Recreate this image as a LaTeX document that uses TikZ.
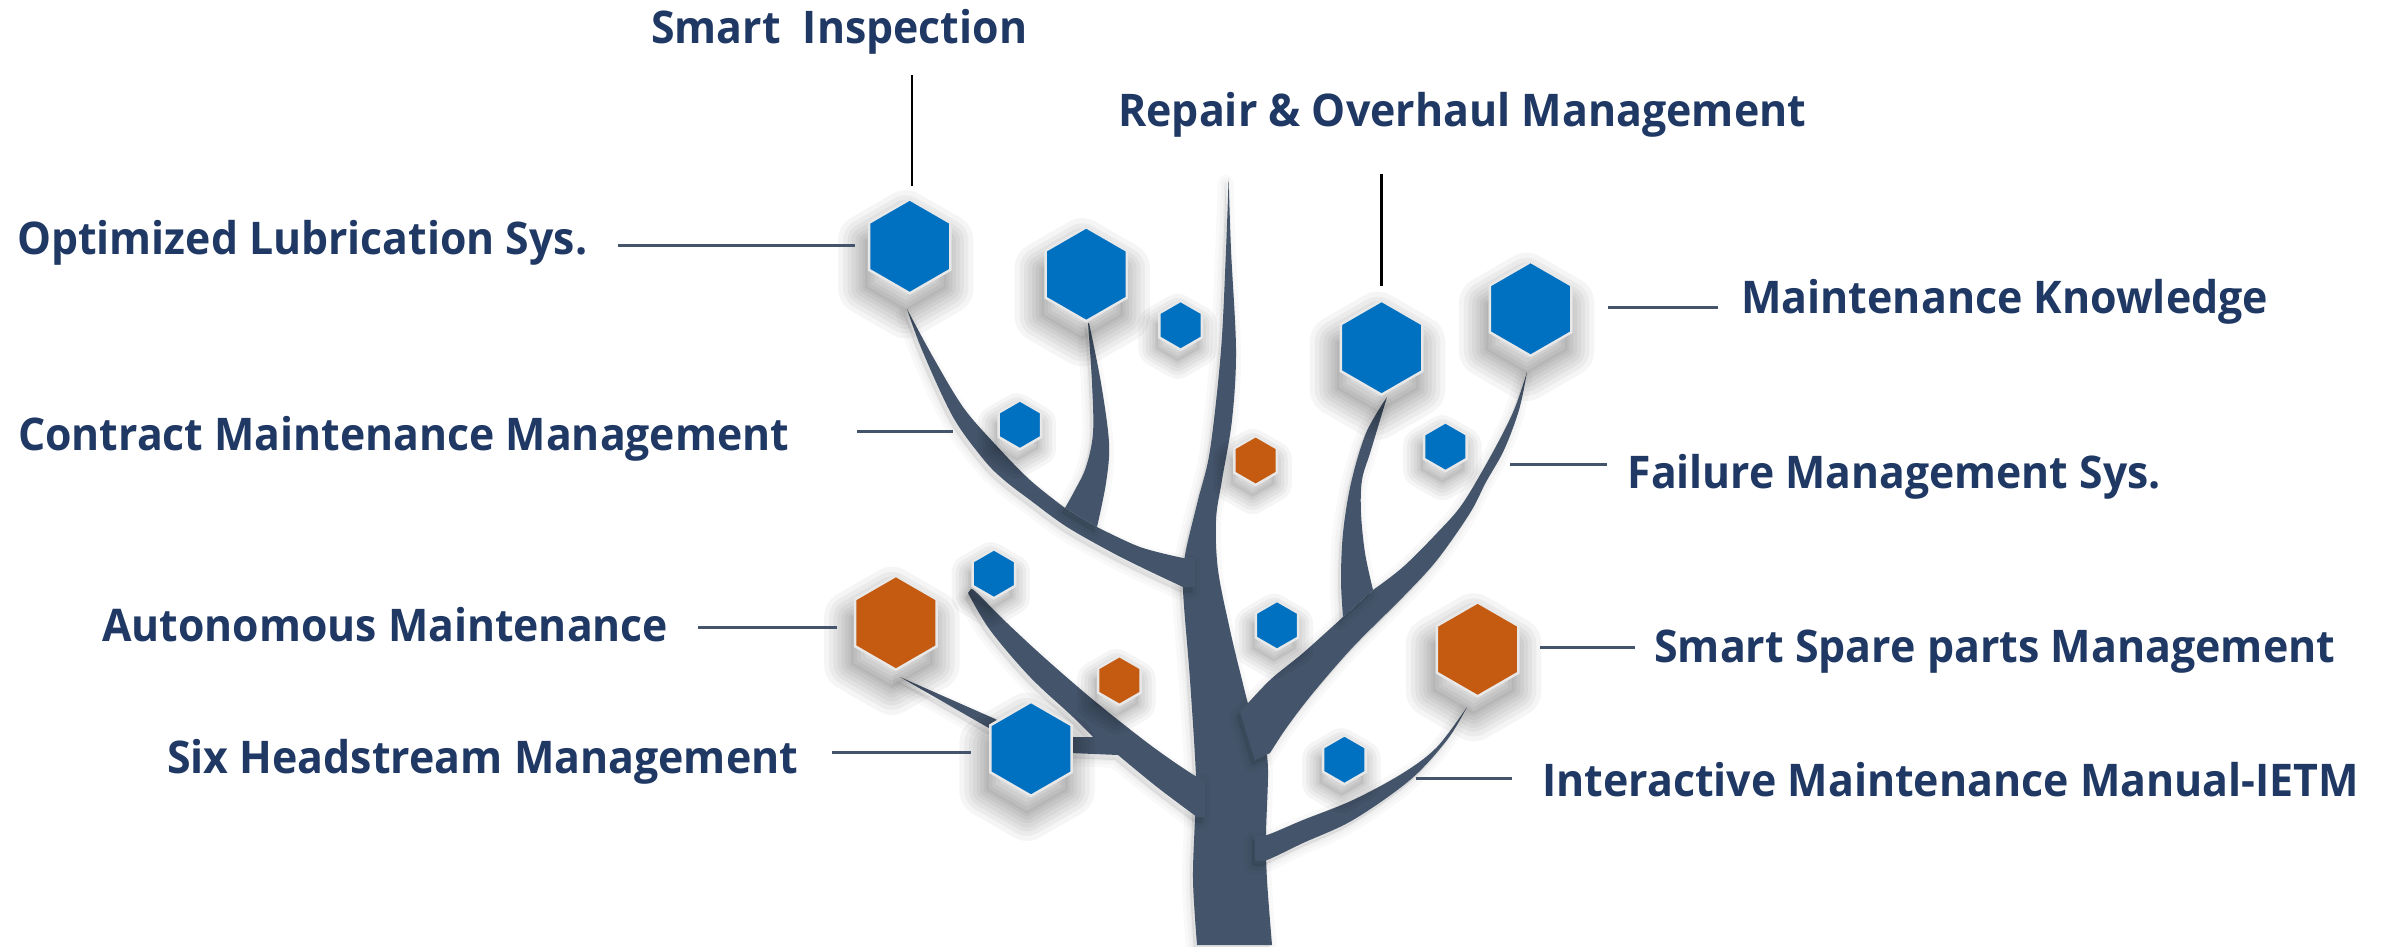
\documentclass[tikz,border=0pt]{standalone}
\usepackage{fontspec}
\setmainfont{Open Sans}
\usepackage{graphicx}
\usetikzlibrary{shapes.geometric}
\definecolor{hexblue}{HTML}{0070C0}
\definecolor{hexorange}{HTML}{C55A11}
\definecolor{treecol}{HTML}{44546A}
\definecolor{txtcol}{HTML}{1F3864}
\newcommand\fitw[2]{\resizebox{#1pt}{\height}{#2}}
\begin{document}
\begin{tikzpicture}[x=1pt,y=-1pt,
  shadowlayer/.style={preaction={draw=black, draw opacity=0.04, line width=#1, line join=round, transform canvas={shift={(-4pt,-18pt)}}}},
  shadowfill/.style={preaction={fill=black, fill opacity=0.04, transform canvas={shift={(-4pt,-18pt)}}}},
  sshadowlayer/.style={preaction={draw=black, draw opacity=0.04, line width=#1, line join=round, transform canvas={shift={(-3pt,-11pt)}}}},
  sshadowfill/.style={preaction={fill=black, fill opacity=0.04, transform canvas={shift={(-3pt,-11pt)}}}},
  hexshadowbig/.style={shadowfill, shadowlayer=54pt, shadowlayer=44pt, shadowlayer=35pt, shadowlayer=27pt, shadowlayer=19pt, shadowlayer=12pt, shadowlayer=5pt},
  hexshadowsmall/.style={sshadowfill, sshadowlayer=36pt, sshadowlayer=28pt, sshadowlayer=21pt, sshadowlayer=14pt, sshadowlayer=8pt, sshadowlayer=3pt},
  tshadowlayer/.style={preaction={fill=black, draw=black, fill opacity=0.025, draw opacity=0.025, line width=#1, line join=round, transform canvas={shift={(-3pt,-5pt)}}}},
  treeshadow/.style={tshadowlayer=16pt, tshadowlayer=9pt, tshadowlayer=3pt},
  branch/.style={fill=treecol, treeshadow},
  hexbase/.style={regular polygon, regular polygon sides=6, shape border rotate=90, inner sep=0pt, draw=black!9, line width=2.5pt},
  bighex/.style={hexbase, minimum size=94pt, hexshadowbig},
  smallhex/.style={hexbase, minimum size=49pt, hexshadowsmall},
  blueh/.style={fill=hexblue},
  orangeh/.style={fill=hexorange},
  lblst/.style={text=txtcol, font=\fontsize{45}{54}\selectfont\bfseries, inner sep=0pt, anchor=base west},
  leader/.style={draw=treecol, line width=3pt},
  vleader/.style={draw=black, line width=2.5pt}
]
\useasboundingbox (0,0) rectangle (2389,947);
\fill[white] (0,0) rectangle (2389,947);

% ---------------- tree ----------------
% trunk with central spike
\path[branch] plot[smooth, tension=0.55] coordinates {(1197,945) (1193,880) (1195,817) (1196,777) (1190,680) (1183,590) (1185,555) (1198,500) (1210,450) (1221,350) (1226,250) (1228.6,178)}
  -- plot[smooth, tension=0.55] coordinates {(1228.6,178) (1231,250) (1236,350) (1232,420) (1222,480) (1216,520) (1218,570) (1230,630) (1242,680) (1250,710) (1264,745) (1268,770) (1266,835) (1267,880) (1272,945)}
  -- cycle;
% right big branch (to Maintenance Knowledge)
\path[branch] plot[smooth, tension=0.55] coordinates {(1240,712) (1270,680) (1303,653) (1343,617)}
  -- plot[smooth, tension=0.55] coordinates {(1373,590) (1403,567) (1437,533) (1463,503) (1494,450) (1514,410) (1527,372)}
  -- plot[smooth, tension=0.55] coordinates {(1527,372) (1519,410) (1504,450) (1486,482) (1470,513) (1437,560) (1403,597) (1353,647) (1313,693) (1287,727) (1270,753)}
  -- (1255,760) -- cycle;
% sub-branch to Repair & Overhaul
\path[branch] plot[smooth, tension=0.55] coordinates {(1387,397) (1366,433) (1351,483) (1343,533) (1341,580) (1343,617)}
  -- plot[smooth, tension=0.55] coordinates {(1373,590) (1365,553) (1361,513) (1362,480) (1371,450) (1387,397)}
  -- cycle;
% lower right branch (IETM)
\path[branch] plot[smooth, tension=0.55] coordinates {(1255,835) (1267,835) (1303,820) (1353,800) (1403,773) (1437,747) (1467,707)}
  -- plot[smooth, tension=0.55] coordinates {(1467,707) (1447,740) (1410,780) (1353,820) (1303,843) (1267,860) (1255,860)}
  -- cycle;
% upper left branch (Optimized Lubrication)
\path[branch] plot[smooth, tension=0.55] coordinates {(907,309) (922,350) (953,417) (984,460) (1004,480) (1030,500) (1067,527) (1113,553) (1147,570) (1183,587)}
  -- (1195,587) -- (1195,558)
  -- plot[smooth, tension=0.55] coordinates {(1183,558) (1140,547) (1097,527)}
  -- plot[smooth, tension=0.55] coordinates {(1065,508) (1030,480) (994,443) (963,407) (933,357) (907,309)}
  -- cycle;
% sub-branch from second hexagon
\path[branch] plot[smooth, tension=0.55] coordinates {(1088,323) (1092,383) (1093,433) (1086,467) (1075,490) (1065,508)}
  -- plot[smooth, tension=0.55] coordinates {(1097,527) (1106,483) (1109,443) (1101,383) (1089,323)}
  -- cycle;
% lower left branch
\path[branch] plot[smooth, tension=0.55] coordinates {(1205,777) (1197,777) (1153,747) (1097,703) (1047,660) (1007,623) (977,593) (971,589)}
  -- plot[smooth, tension=0.55] coordinates {(968,593) (990,630) (1030,677) (1073,717) (1093,737)}
  -- (1070,737) -- (1070,753)
  -- plot[smooth, tension=0.55] coordinates {(1118,755) (1157,787) (1197,817)}
  -- (1205,817) -- cycle;
% thin branch from Autonomous Maintenance hexagon
\path[branch] (900,677) -- (993,718) -- (1040,740) -- (1040,752) -- (987,727) -- cycle;

% ---------------- hexagons ----------------
\node[bighex, blueh] (h1) at (909.7,246.3) {};
\node[bighex, blueh] (h2) at (1086.2,274.2) {};
\node[smallhex, blueh] (h3) at (1180.6,325.3) {};
\node[bighex, blueh] (h4) at (1381.6,347.7) {};
\node[bighex, blueh] (h5) at (1530.6,308.8) {};
\node[smallhex, blueh] (h6) at (1019.9,424.8) {};
\node[smallhex, orangeh] (h7) at (1255.6,460.5) {};
\node[smallhex, blueh] (h8) at (1445.4,446.7) {};
\node[smallhex, blueh] (h9) at (993.9,573.7) {};
\node[bighex, orangeh] (h10) at (895.9,622.8) {};
\node[smallhex, blueh] (h11) at (1277,625.3) {};
\node[smallhex, orangeh] (h12) at (1119.4,680.5) {};
\node[bighex, orangeh] (h13) at (1477.6,649.3) {};
\node[bighex, blueh] (h14) at (1031,748.8) {};
\node[smallhex, blueh] (h15) at (1344.4,759.7) {};

% ---------------- labels ----------------
\node[lblst] (t1) at (651,43.3) {\fitw{376}{Smart\ \ Inspection}};
\node[lblst] (t2) at (1118,126) {\fitw{688}{Repair \& Overhaul Management}};
\node[lblst] (t3) at (17,254.3) {\fitw{570}{Optimized Lubrication Sys.}};
\node[lblst] (t4) at (1741,313.3) {\fitw{527}{Maintenance Knowledge}};
\node[lblst] (t5) at (18,450.5) {\fitw{771}{Contract Maintenance Management}};
\node[lblst] (t6) at (1627.5,488.3) {\fitw{533}{Failure Management Sys.}};
\node[lblst] (t7) at (102,641) {\fitw{566}{Autonomous Maintenance}};
\node[lblst] (t8) at (1654,662.7) {\fitw{681}{Smart Spare parts Management}};
\node[lblst] (t9) at (167,773.3) {\fitw{631}{Six Headstream Management}};
\node[lblst] (t10) at (1542,796.7) {\fitw{817}{Interactive Maintenance Manual-IETM}};

% ---------------- leader lines ----------------
\coordinate (c1a) at (912,75);      \coordinate (c1b) at (912,186);
\coordinate (c2a) at (1381.6,174);  \coordinate (c2b) at (1381.6,286);
\coordinate (c3a) at (618,245.7);   \coordinate (c3b) at (854.6,245.7);
\coordinate (c4a) at (1607.7,307.3);\coordinate (c4b) at (1718.3,307.3);
\coordinate (c5a) at (857,431.7);   \coordinate (c5b) at (953,431.7);
\coordinate (c6a) at (1510,464.3);  \coordinate (c6b) at (1606.6,464.3);
\coordinate (c7a) at (698.3,627.3); \coordinate (c7b) at (836.7,627.3);
\coordinate (c8a) at (1540,647.3);  \coordinate (c8b) at (1634.7,647.3);
\coordinate (c9a) at (832,752.7);   \coordinate (c9b) at (970.7,752.7);
\coordinate (c10a) at (1415.8,778.3); \coordinate (c10b) at (1512.3,778.3);
\draw[vleader] (c1a) -- (c1b);
\draw[vleader] (c2a) -- (c2b);
\draw[leader] (c3a) -- (c3b);
\draw[leader] (c4a) -- (c4b);
\draw[leader] (c5a) -- (c5b);
\draw[leader] (c6a) -- (c6b);
\draw[leader] (c7a) -- (c7b);
\draw[leader] (c8a) -- (c8b);
\draw[leader] (c9a) -- (c9b);
\draw[leader] (c10a) -- (c10b);
\end{tikzpicture}
\end{document}
